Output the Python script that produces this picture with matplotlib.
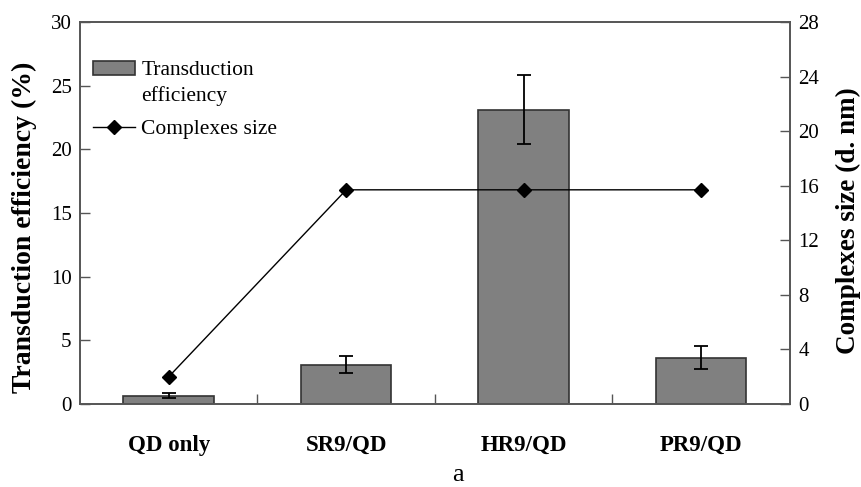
import matplotlib
matplotlib.use("Agg")
import matplotlib.pyplot as plt
from matplotlib.patches import Rectangle
from matplotlib.legend_handler import HandlerPatch
import numpy as np

plt.rcParams['font.family'] = ['Liberation Serif', 'DejaVu Serif']

categories = ["QD only", "SR9/QD", "HR9/QD", "PR9/QD"]
efficiency = [0.65, 3.1, 23.1, 3.65]
efficiency_err = [0.2, 0.7, 2.7, 0.9]
complex_size = [2.0, 15.7, 15.7, 15.7]

fig = plt.figure(figsize=(8.61, 4.87), dpi=100)
ax = fig.add_axes([0.0929, 0.1704, 0.8246, 0.7844])
x = np.arange(len(categories))

bars = ax.bar(x, efficiency, width=0.51, color="#808080", edgecolor="#333333",
              linewidth=1.2, zorder=2)
ax.errorbar(x, efficiency, yerr=efficiency_err, fmt="none", ecolor="black",
            elinewidth=1.3, capsize=5, capthick=1.3, zorder=3)

ax.set_xlim(-0.5, len(categories) - 0.5)
ax.set_ylim(0, 30)
ax.set_yticks(np.arange(0, 31, 5))
ax.set_xticks(x)
ax.set_xticklabels(categories, fontsize=16.5, fontweight="bold")
ax.set_xticks(x[:-1] + 0.5, minor=True)
ax.tick_params(axis="x", which="major", length=0, pad=22)
ax.tick_params(axis="x", which="minor", direction="in", length=7, width=1, color="#555555")
ax.tick_params(axis="y", direction="in", length=7, width=1, color="#555555",
               labelsize=15, pad=6)
ax.set_ylabel("Transduction efficiency (%)", fontsize=20, fontweight="bold")
ax.yaxis.set_label_coords(-0.060, 0.463)

ax2 = ax.twinx()
line, = ax2.plot(x, complex_size, color="black", linewidth=1, marker="D",
                 markersize=7, zorder=4)
ax2.set_ylim(0, 28)
ax2.set_yticks(np.arange(0, 29, 4))
ax2.tick_params(axis="y", direction="in", length=7, width=1, color="#555555",
                labelsize=15, pad=6)
ax2.set_ylabel("Complexes size (d. nm)", fontsize=19.5, fontweight="bold",
               rotation=90)
ax2.yaxis.set_label_coords(1.065, 0.479)

for a in (ax, ax2):
    for s in a.spines.values():
        s.set_color("#555555")
        s.set_linewidth(1.2)


def top_aligned_patch(legend, orig_handle, xdescent, ydescent, width, height, fontsize):
    # keep the swatch level with the first line of a two-line label
    return Rectangle((-xdescent, -ydescent + 1.05 * height), width, height)


leg = ax2.legend([bars.patches[0], line], ["Transduction\nefficiency", "Complexes size"],
                 loc="upper left", bbox_to_anchor=(0.0183, 0.897), frameon=False,
                 fontsize=15.5, handlelength=1.95, handleheight=0.65,
                 handletextpad=0.3, labelspacing=0.6, borderaxespad=0.0,
                 borderpad=0.0,
                 handler_map={Rectangle: HandlerPatch(patch_func=top_aligned_patch)})
leg.get_texts()[0].set_linespacing(1.4)

fig.text(0.532, 0.002, "a", fontsize=19, ha="center", va="bottom")

fig.savefig("out.png", dpi=100)
